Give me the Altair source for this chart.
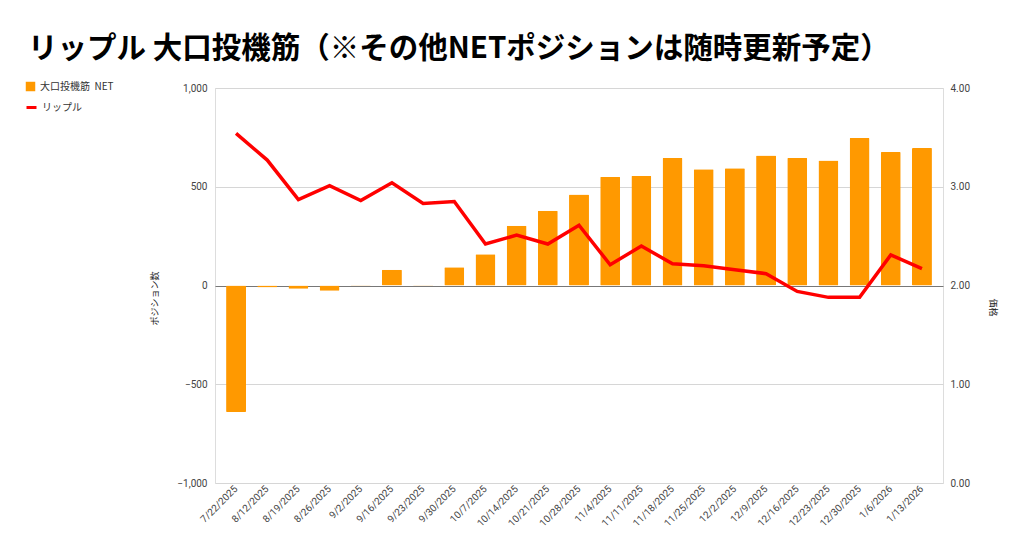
import altair as alt
import pandas as pd

dates = ["7/22/2025", "8/12/2025", "8/19/2025", "8/26/2025", "9/2/2025", "9/16/2025",
         "9/23/2025", "9/30/2025", "10/7/2025", "10/14/2025", "10/21/2025", "10/28/2025",
         "11/4/2025", "11/11/2025", "11/18/2025", "11/25/2025", "12/2/2025", "12/9/2025",
         "12/16/2025", "12/23/2025", "12/30/2025", "1/6/2026", "1/13/2026"]
net = [-640, -10, -17, -27, -3, 80, -2, 92, 158, 302, 379, 461,
       550, 555, 646, 589, 594, 658, 646, 633, 747, 676, 696]
price = [3.54, 3.27, 2.87, 3.01, 2.86, 3.04, 2.83, 2.85, 2.42, 2.51, 2.42, 2.61,
         2.21, 2.40, 2.22, 2.20, 2.16, 2.12, 1.94, 1.88, 1.88, 2.31, 2.17]
bar_name = "大口投機筋\u00a0\u00a0NET"
line_name = "リップル"
title_text = "リップル 大口投機筋（※その他NETポジションは随時更新予定）"

df = pd.DataFrame({"date": dates, "net": net, "price": price,
                   "s1": bar_name, "s2": line_name})

FONT = "Roboto, Noto Sans CJK JP"

x_enc = alt.X(
    "date:N", sort=dates,
    scale=alt.Scale(paddingInner=0.36, paddingOuter=0.355),
    axis=alt.Axis(title=None, labelAngle=-45, labelAlign="right", labelBaseline="middle",
                  labelFontSize=10, labelColor="#444", labelFont=FONT, labelPadding=4,
                  ticks=False, domain=False, grid=False, labelOverlap=False),
)

bars = alt.Chart(df).mark_bar(cornerRadius=1).encode(
    x=x_enc,
    y=alt.Y("net:Q", scale=alt.Scale(domain=[-1000, 1000], nice=False),
            axis=alt.Axis(values=[-1000, -500, 0, 500, 1000], format=",.0f",
                          title="ポジション数", titleFontSize=9, titleFontWeight="normal",
                          titleColor="#222", titleFont="Noto Sans CJK JP",
                          titleX=-56, titleY=210, titleAngle=-90,
                          labelFontSize=10, labelColor="#444", labelFont=FONT, labelPadding=8,
                          ticks=False, domain=False,
                          gridColor={"condition": {"test": "datum.value === 0", "value": "#777"},
                                     "value": "#d6d6d6"},
                          gridWidth=1)),
    color=alt.Color("s1:N", scale=alt.Scale(range=["#ff9900"]),
                    legend=alt.Legend(orient="none", legendX=-190, legendY=-7, title=None,
                                      symbolType="square", symbolSize=90,
                                      labelFontSize=10, labelColor="#333",
                                      labelFont="Noto Sans CJK JP")),
)

line = alt.Chart(df).mark_line(strokeWidth=3.5).encode(
    x=x_enc,
    y=alt.Y("price:Q", scale=alt.Scale(domain=[0, 4], nice=False),
            axis=alt.Axis(orient="right", values=[0, 1, 2, 3, 4], format=".2f",
                          title="価格", titleFontSize=9, titleFontWeight="normal",
                          titleColor="#222", titleFont="Noto Sans CJK JP",
                          titleX=44, titleY=219, titleAngle=90,
                          labelFontSize=10, labelColor="#444", labelFont=FONT, labelPadding=7,
                          ticks=False, domain=False, grid=False)),
    color=alt.Color("s2:N", scale=alt.Scale(range=["#ff0000"]),
                    legend=alt.Legend(orient="none", legendX=-190, legendY=13, title=None,
                                      symbolType="stroke", symbolStrokeWidth=3, symbolSize=100,
                                      labelFontSize=10, labelColor="#333",
                                      labelFont="Noto Sans CJK JP")),
)

chart = alt.layer(bars, line).resolve_scale(
    y="independent", color="independent"
).properties(
    width=728, height=395,
    autosize=alt.AutoSizeParams(type="none"),
    padding={"left": 207, "top": 80, "right": 73, "bottom": 67},
    title=alt.TitleParams(title_text, anchor="start", frame="group", dx=-187, dy=37, offset=31,
                          fontSize=29.5, fontWeight="bold", color="#000",
                          font="Noto Sans CJK JP", baseline="alphabetic"),
).configure_view(stroke=None).configure(background="white")

chart.save("out.html", embed_options={"renderer": "svg", "actions": False})
